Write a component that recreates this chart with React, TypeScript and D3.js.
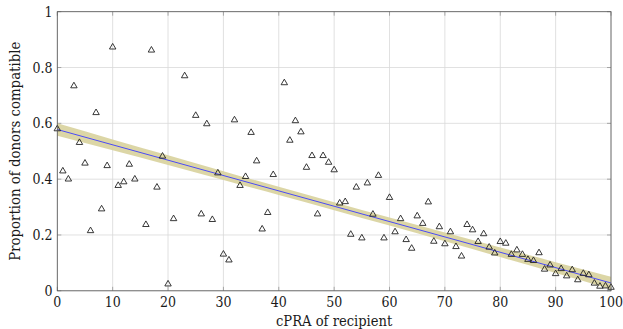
import React from "react";
import * as d3 from "d3";

// cPRA of recipient (x) and proportion of donors compatible (y)
const cpra: number[] = [
  0, 1, 2, 3, 4, 5, 6, 7, 8, 9, 10, 11, 12, 13, 14, 16, 17, 18, 19, 20, 21, 23, 25,
  26, 27, 28, 29, 30, 31, 32, 33, 34, 35, 36, 37, 38, 39, 41, 42, 43, 44, 45, 46, 47,
  48, 49, 50, 51, 52, 53, 54, 55, 56, 57, 58, 59, 60, 61, 62, 63, 64, 65, 66, 67, 68,
  69, 70, 71, 72, 73, 74, 75, 76, 77, 78, 79, 80, 81, 82, 83, 84, 85, 86, 87, 88, 89,
  90, 91, 92, 93, 94, 95, 96, 97, 98, 99, 100,
];
const proportion: number[] = [
  0.58, 0.429, 0.4, 0.734, 0.531, 0.457, 0.215, 0.638, 0.293, 0.448, 0.873, 0.377, 0.39,
  0.453, 0.4, 0.237, 0.862, 0.371, 0.482, 0.024, 0.258, 0.77, 0.628,
  0.275, 0.598, 0.255, 0.422, 0.131, 0.11, 0.612, 0.377, 0.409, 0.567, 0.465, 0.221,
  0.28, 0.416, 0.745, 0.539, 0.609, 0.569, 0.442, 0.484, 0.275,
  0.484, 0.46, 0.433, 0.314, 0.319, 0.202, 0.371, 0.189, 0.386, 0.274, 0.413, 0.189,
  0.334, 0.211, 0.258, 0.183, 0.152, 0.268, 0.241, 0.318, 0.177,
  0.229, 0.168, 0.211, 0.158, 0.124, 0.237, 0.218, 0.176, 0.204, 0.156, 0.135, 0.176,
  0.17, 0.13, 0.146, 0.13, 0.112, 0.108, 0.136, 0.077, 0.092,
  0.061, 0.079, 0.053, 0.075, 0.039, 0.062, 0.057, 0.027, 0.016, 0.017, 0.012,
];
// fitted trend line and its band half-width
const fitIntercept = 0.578;
const fitSlope = -0.0055;
const bandMid = 0.014; // half-width at x = 50
const bandGrowth = 0.00034; // growth of half-width per unit away from 50
const fitSamples: number[] = [0, 10, 20, 30, 40, 50, 60, 70, 80, 90, 100];

const xTicks: number[] = [0, 10, 20, 30, 40, 50, 60, 70, 80, 90, 100];
const yTicks: number[] = [0, 0.2, 0.4, 0.6, 0.8, 1];
const xLabel = "cPRA of recipient";
const yLabel = "Proportion of donors compatible";

const W = 623;
const H = 329;
const M = { left: 57.3, right: 611, top: 11.7, bottom: 290.8 };
const FONT = "'DejaVu Serif Condensed', 'DejaVu Serif', serif";

export default function App() {
  const x = d3.scaleLinear().domain([0, 100]).range([M.left, M.right]);
  const y = d3.scaleLinear().domain([0, 1]).range([M.bottom, M.top]);

  const fit = (v: number) => fitIntercept + fitSlope * v;
  const hw = (v: number) => Math.sqrt(bandMid ** 2 + (bandGrowth * (v - 50)) ** 2);

  const band = d3
    .area<number>()
    .x((v) => x(v))
    .y0((v) => y(fit(v) - hw(v)))
    .y1((v) => y(fit(v) + hw(v)))
    .curve(d3.curveMonotoneX);
  const line = d3
    .line<number>()
    .x((v) => x(v))
    .y((v) => y(fit(v)));
  const tri = d3.symbol().type(d3.symbolTriangle).size(18)()!;
  const txt = { fontFamily: FONT, fill: "#1a1a1a" } as React.CSSProperties;

  return (
    <svg
      width={W}
      height={H}
      style={{ position: "absolute", left: 0, top: 0, background: "#fff" }}
    >
      {/* grid */}
      <g stroke="#d8d8d8" strokeWidth={0.8}>
        {xTicks.map((t) => (
          <line key={"gx" + t} x1={x(t)} x2={x(t)} y1={M.top} y2={M.bottom} />
        ))}
        {yTicks.map((t) => (
          <line key={"gy" + t} x1={M.left} x2={M.right} y1={y(t)} y2={y(t)} />
        ))}
      </g>
      {/* ticks */}
      <g stroke="#8a8a8a" strokeWidth={0.7}>
        {xTicks.map((t) => (
          <g key={"tx" + t}>
            <line x1={x(t)} x2={x(t)} y1={M.bottom} y2={M.bottom - 4} />
            <line x1={x(t)} x2={x(t)} y1={M.top} y2={M.top + 4} />
          </g>
        ))}
        {yTicks.map((t) => (
          <g key={"ty" + t}>
            <line x1={M.left} x2={M.left + 4} y1={y(t)} y2={y(t)} />
            <line x1={M.right} x2={M.right - 4} y1={y(t)} y2={y(t)} />
          </g>
        ))}
      </g>
      {/* trend band and line */}
      <path d={band(fitSamples)!} fill="#d8d19c" fillOpacity={0.9} />
      <path d={line([0, 100])!} fill="none" stroke="#3a3aff" strokeWidth={0.9} />
      {/* points */}
      <g fill="none" stroke="#222" strokeWidth={0.9}>
        {cpra.map((c, i) => (
          <path key={i} d={tri} transform={`translate(${x(c)},${y(proportion[i])})`} />
        ))}
      </g>
      {/* frame */}
      <rect
        x={M.left}
        y={M.top}
        width={M.right - M.left}
        height={M.bottom - M.top}
        fill="none"
        stroke="#555"
        strokeWidth={0.8}
      />
      {/* tick labels */}
      {xTicks.map((t) => (
        <text key={"lx" + t} x={x(t)} y={306.5} textAnchor="middle" style={{ ...txt, fontSize: 14 }}>
          {t}
        </text>
      ))}
      {yTicks.map((t) => (
        <text key={"ly" + t} x={52.5} y={y(t) + 5} textAnchor="end" style={{ ...txt, fontSize: 14 }}>
          {t}
        </text>
      ))}
      {/* axis labels */}
      <text x={(M.left + M.right) / 2} y={326} textAnchor="middle" style={{ ...txt, fontSize: 14.6 }}>
        {xLabel}
      </text>
      <text
        transform={`translate(20,${(M.top + M.bottom) / 2}) rotate(-90)`}
        textAnchor="middle"
        style={{ ...txt, fontSize: 14.8 }}
      >
        {yLabel}
      </text>
    </svg>
  );
}
